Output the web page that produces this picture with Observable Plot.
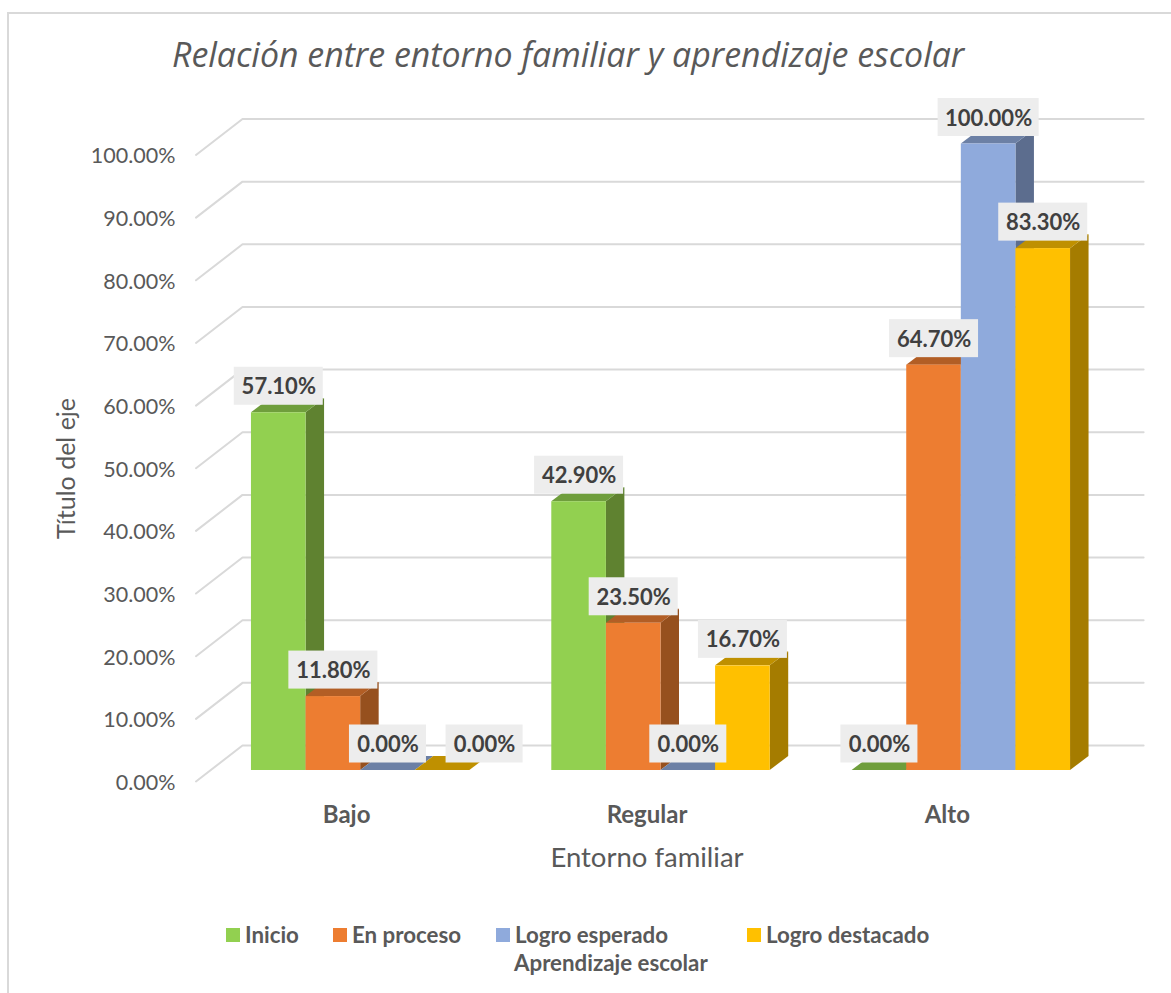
<!DOCTYPE html>
<html lang="es">
<head>
<meta charset="utf-8">
<script src="https://cdn.jsdelivr.net/npm/d3@7"></script>
<script src="https://cdn.jsdelivr.net/npm/@observablehq/plot@0.6"></script>
<style>
  html, body { margin: 0; padding: 0; background: #fff; width: 1171px; height: 993px; overflow: hidden; }
  #frame { position: absolute; left: 7px; top: 12px; width: 1200px; height: 1000px; border: 2px solid #D9D9D9; box-sizing: border-box; pointer-events: none; }
  #title { position: absolute; left: 172px; top: 31px; margin: 0; font: italic 400 33.9px "Open Sans", sans-serif; color: #595959; white-space: nowrap; }
  #chart { position: absolute; left: 0; top: 90px; }
  #chart svg { display: block; background: transparent; }
  #legend { position: absolute; left: 0; top: 880px; width: 1171px; height: 113px; font: 700 22.3px Lato, sans-serif; color: #595959; }
  #legend span { position: absolute; white-space: nowrap; line-height: 26px; }
  #legend i { position: absolute; width: 14px; height: 14px; }
</style>
</head>
<body>
<div id="frame"></div>
<h1 id="title">Relación entre entorno familiar y aprendizaje escolar</h1>
<div id="chart"></div>
<div id="legend"></div>
<script>
const categories = ["Bajo", "Regular", "Alto"];
const series = ["Inicio", "En proceso", "Logro esperado", "Logro destacado"];
const inicio = [57.1, 42.9, 0];
const enProceso = [11.8, 23.5, 64.7];
const logroEsperado = [0, 0, 100];
const logroDestacado = [0, 16.7, 83.3];
const tickValues = [0, 10, 20, 30, 40, 50, 60, 70, 80, 90, 100];
const frontColors = ["#92D050", "#ED7D31", "#8FAADC", "#FFC000"];
const topColors = ["#6F9E3C", "#B25E25", "#6C80A5", "#BF9000"];
const sideColors = ["#5F8230", "#96501E", "#5C6D8E", "#A57C00"];

const seriesValues = [inicio, enProceso, logroEsperado, logroDestacado];
const fmt = d => d.toFixed(2) + "%";

// x scale is in "bar widths"; Excel gap width 150%
const slot = 54.6, unitY = 6.265;
const groupStart = i => 0.75 + i * 5.5;
const depthX = 18.5 / slot, depthY = 14 / unitY;
const bars = [];
series.forEach((s, si) => categories.forEach((c, ci) => {
  bars.push({series: s, si, category: c, x1: groupStart(ci) + si, x2: groupStart(ci) + si + 1, v: seriesValues[si][ci]});
}));

const marks = [];
// walls: grid lines, left diagonal + back line
const gridRows = tickValues.flatMap(t => [
  {t, x: -14.5 / slot, y: t - 11 / unitY},
  {t, x: 32 / slot, y: t + 25 / unitY},
  {t, x: 933 / slot, y: t + 25 / unitY}
]);
marks.push(Plot.line(gridRows, {x: "x", y: "y", z: "t", stroke: "#D9D9D9", strokeWidth: 2}));

series.forEach((s, si) => {
  const sb = bars.filter(b => b.si === si);
  const side = sb.filter(b => b.v > 0).flatMap(b => [
    {k: b.category, x: b.x2, y1: 0, y2: b.v},
    {k: b.category, x: b.x2 + depthX, y1: depthY, y2: b.v + depthY}
  ]);
  const top = sb.flatMap(b => [
    {k: b.category, y: b.v, x1: b.x1, x2: b.x2},
    {k: b.category, y: b.v + depthY, x1: b.x1 + depthX, x2: b.x2 + depthX}
  ]);
  marks.push(Plot.areaY(side, {x: "x", y1: "y1", y2: "y2", z: "k", fill: sideColors[si]}));
  marks.push(Plot.areaX(top, {y: "y", x1: "x1", x2: "x2", z: "k", fill: topColors[si]}));
  marks.push(Plot.rect(sb.filter(b => b.v > 0), {x1: "x1", x2: "x2", y1: () => 0, y2: "v", fill: frontColors[si]}));
});

// value labels
const labelBox = 38 / unitY;
const labelW = b => (12 * fmt(b.v).length + 17) / slot;
const mid = b => (b.x1 + b.x2) / 2;
const isShifted = b => b.category === "Bajo" && b.si === 3;
for (const [subset, dx] of [[bars.filter(b => !isShifted(b)), 0], [bars.filter(isShifted), 42]]) {
  marks.push(Plot.rect(subset, {
    x1: b => mid(b) - labelW(b) / 2, x2: b => mid(b) + labelW(b) / 2,
    y1: b => b.v - labelBox / 2, y2: b => b.v + labelBox / 2,
    dx, dy: -26.5, fill: "#EDEDED"
  }));
  marks.push(Plot.text(subset, {
    x: mid, y: "v", text: b => fmt(b.v), dx, dy: -25.5,
    fontWeight: 700, fontSize: 22, fill: "#404040"
  }));
}

// axes and axis titles
marks.push(Plot.axisY({ticks: tickValues, tickFormat: fmt, tickSize: 0, tickPadding: 35, dy: 12.5, fontSize: 21.5, color: "#595959", label: null}));
const centers = categories.map((c, i) => groupStart(i) + 2);
marks.push(Plot.text(categories, {x: (d, i) => centers[i], y: () => 0, dx: -14, dy: 45, fontSize: 24, fontWeight: 700, fill: "#595959"}));
marks.push(Plot.text(["Entorno familiar"], {x: () => centers[1], y: () => 0, dx: -14, dy: 88, fontSize: 27.5, fill: "#595959"}));
marks.push(Plot.text(["Título del eje"], {x: () => (67 - 210) / slot, y: () => 48.2, rotate: -90, fontSize: 25, fill: "#595959"}));

const plot = Plot.plot({
  width: 1171, height: 790,
  marginLeft: 210, marginRight: 60, marginTop: 53.5, marginBottom: 110,
  x: {type: "linear", domain: [0, 16.5], axis: null},
  y: {type: "linear", domain: [0, 100], axis: null},
  style: {fontFamily: "Lato, sans-serif", background: "transparent", overflow: "visible"},
  marks
});
document.getElementById("chart").append(plot);

// legend
const legend = document.getElementById("legend");
const swatchX = [226, 333, 496, 747];
series.forEach((s, i) => {
  const sw = document.createElement("i");
  sw.style.cssText = `left:${swatchX[i]}px;top:48px;background:${frontColors[i]}`;
  const t = document.createElement("span");
  t.textContent = s;
  t.style.cssText = `left:${swatchX[i] + 19}px;top:42px`;
  legend.append(sw, t);
});
const legendTitle = document.createElement("span");
legendTitle.textContent = "Aprendizaje escolar";
legendTitle.style.cssText = "left:514px;top:70px";
legend.append(legendTitle);
</script>
</body>
</html>
